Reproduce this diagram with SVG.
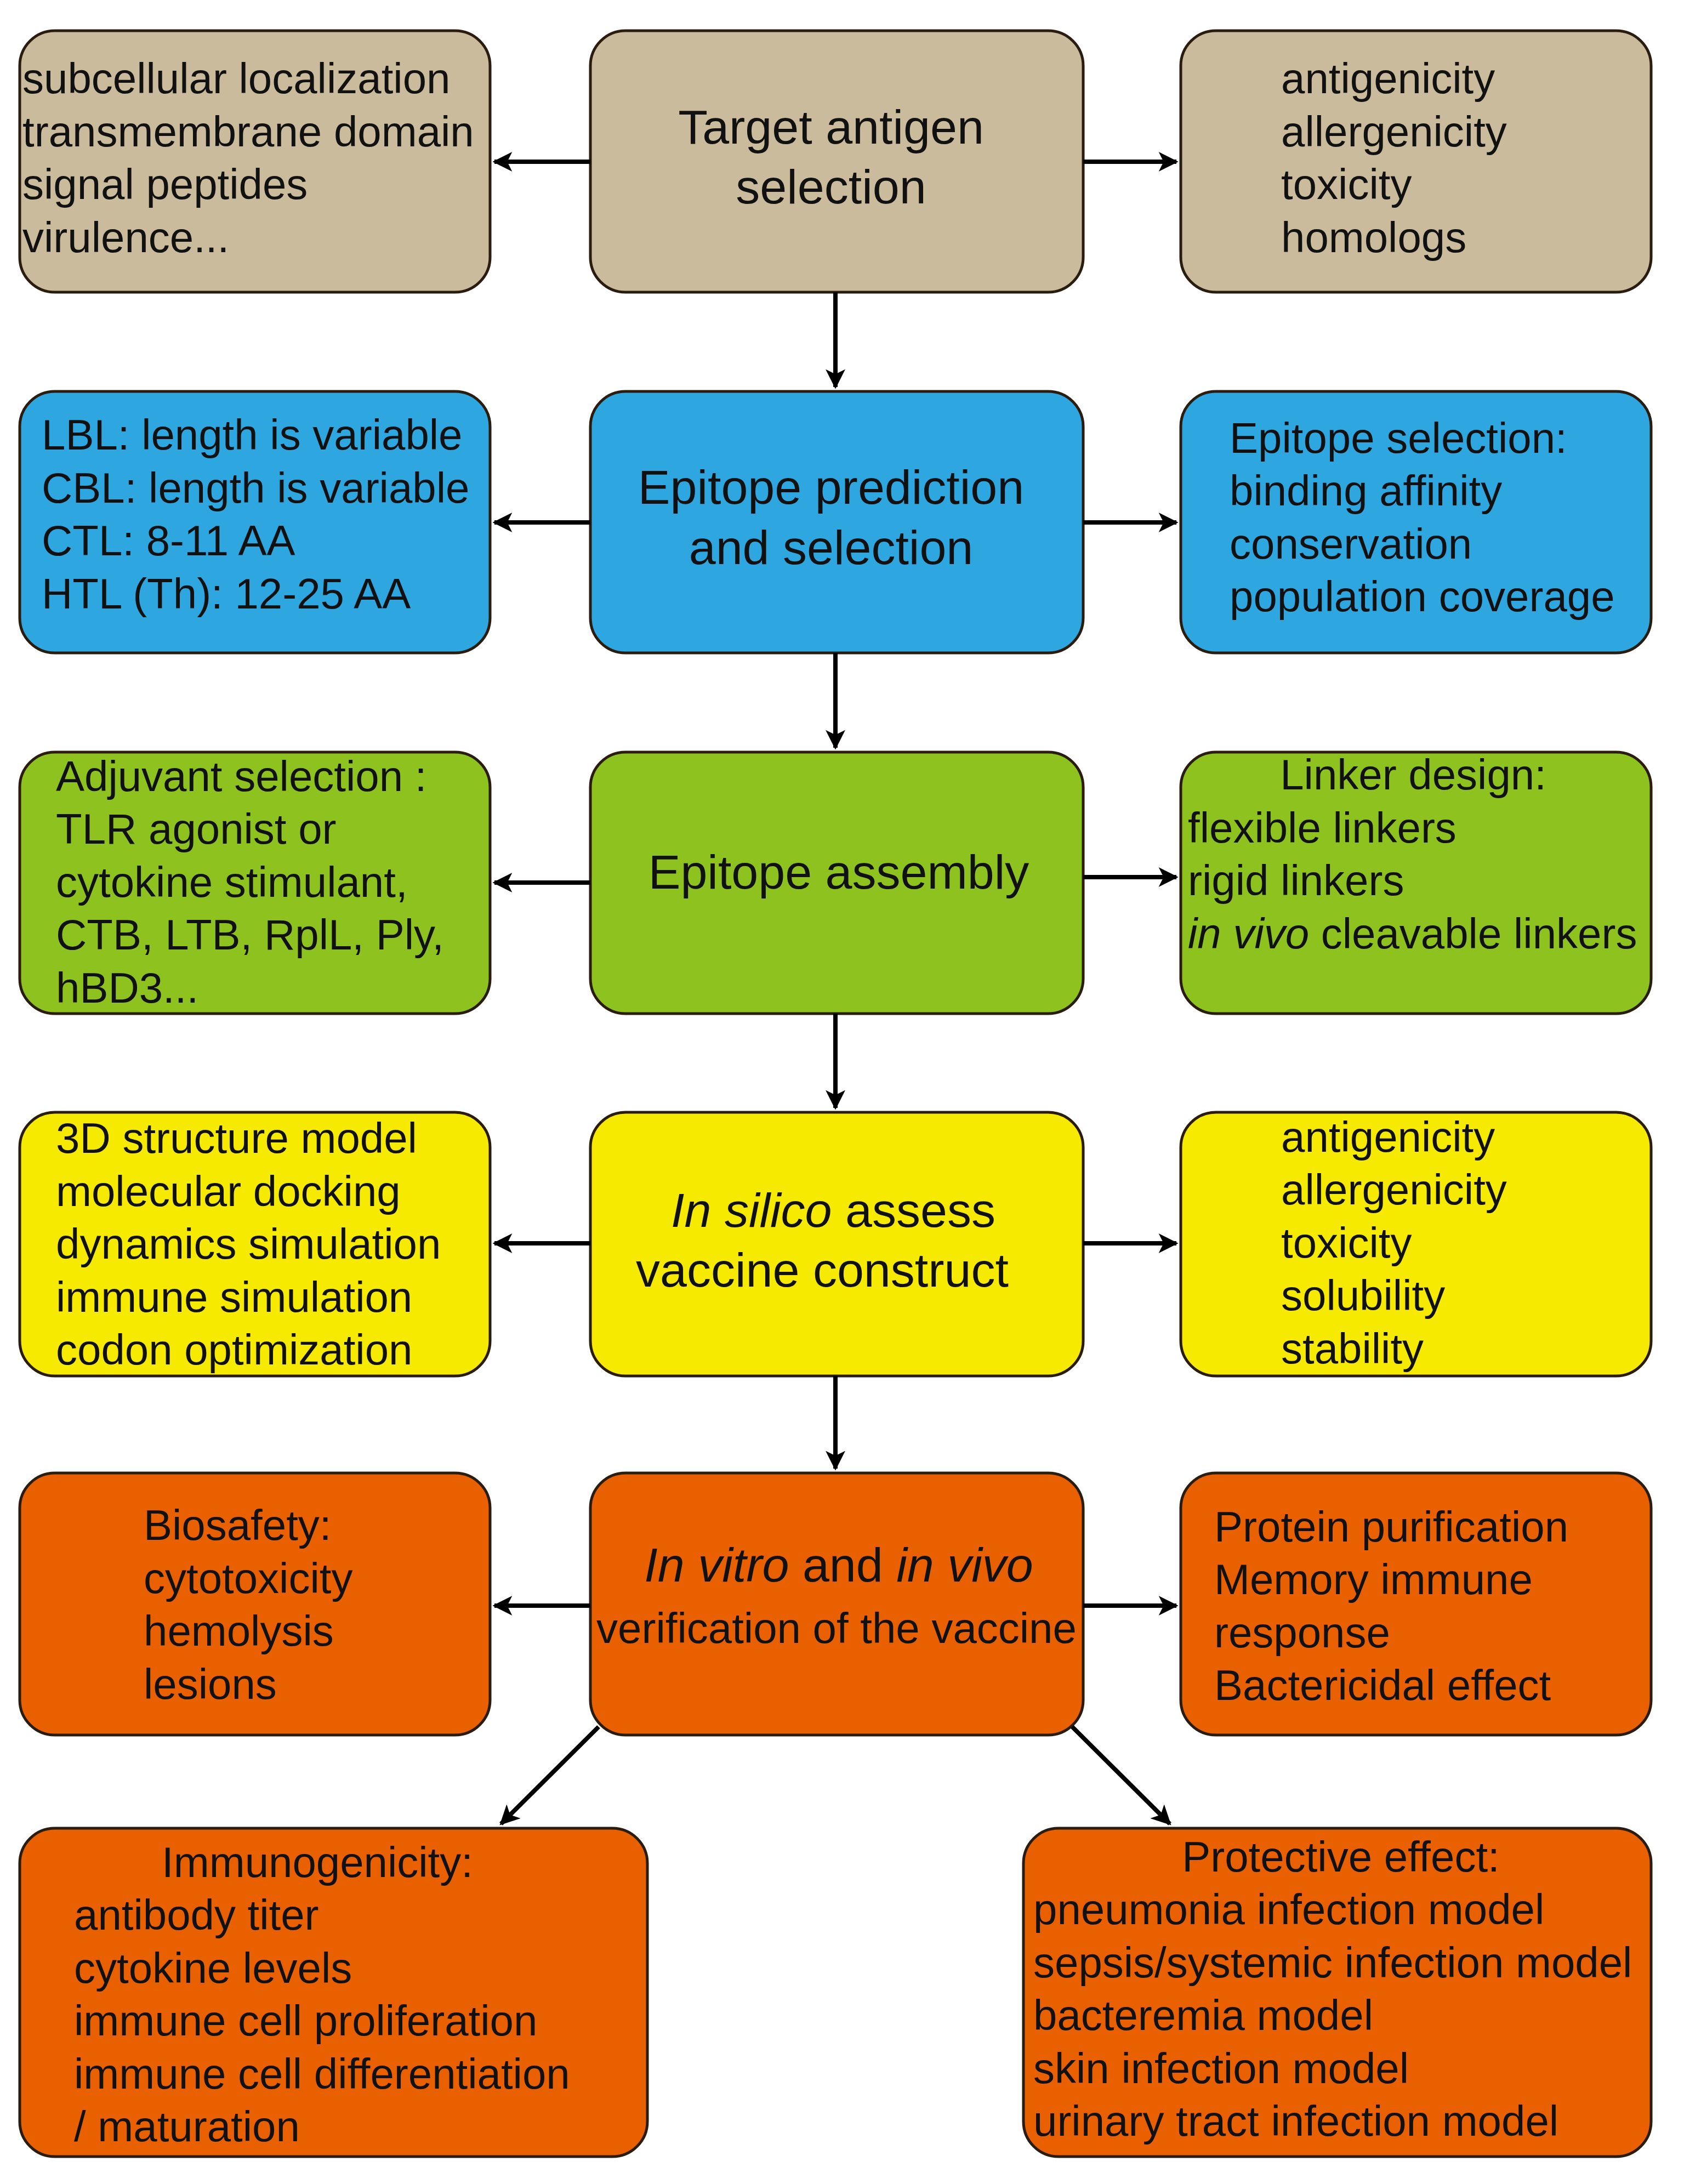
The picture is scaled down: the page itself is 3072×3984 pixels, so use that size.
<svg xmlns="http://www.w3.org/2000/svg" width="3072" height="3984" viewBox="0 0 3072 3984">
<style>
.b{stroke:#2a1d10;stroke-width:5}
.tan{fill:#C9BB9C}.blu{fill:#2EA6E0}.grn{fill:#8DC21F}.yel{fill:#F5EA00}.org{fill:#E86000}
text{font-family:"Liberation Sans",Arial,sans-serif;fill:#111;font-size:78px}
.c{font-size:88px;text-anchor:middle}
.m{text-anchor:middle}
.l{stroke:#000;stroke-width:8;fill:none;marker-end:url(#ah)}
</style>
<defs><marker id="ah" viewBox="0 0 10 10" refX="9" refY="5" markerWidth="4.5" markerHeight="4.5" orient="auto" markerUnits="strokeWidth"><path d="M0,0 L10,5 L0,10 L2.5,5 z" fill="#000"/></marker></defs>
<rect width="3072" height="3984" fill="#fff"/>
<g id="r1l"><rect class="b tan" x="36" y="56" width="858" height="477" rx="64"/>
<text x="41" y="170">subcellular localization</text><text x="41" y="267">transmembrane domain</text><text x="41" y="363">signal peptides</text><text x="41" y="460">virulence...</text></g>
<g id="r1c"><rect class="b tan" x="1077" y="56" width="899" height="477" rx="64"/>
<text class="c" x="1516" y="262">Target antigen</text><text class="c" x="1516" y="371">selection</text></g>
<g id="r1r"><rect class="b tan" x="2154" y="56" width="858" height="477" rx="64"/>
<text x="2337" y="170">antigenicity</text><text x="2337" y="267">allergenicity</text><text x="2337" y="363">toxicity</text><text x="2337" y="460">homologs</text></g>

<g id="r2l"><rect class="b blu" x="36" y="714" width="858" height="477" rx="64"/>
<text x="76" y="820">LBL: length is variable</text><text x="76" y="917">CBL: length is variable</text><text x="76" y="1013">CTL:  8-11 AA</text><text x="76" y="1110">HTL (Th): 12-25 AA</text></g>
<g id="r2c"><rect class="b blu" x="1077" y="714" width="899" height="477" rx="64"/>
<text class="c" x="1516" y="919">Epitope prediction</text><text class="c" x="1516" y="1029">and selection</text></g>
<g id="r2r"><rect class="b blu" x="2154" y="714" width="858" height="477" rx="64"/>
<text x="2243" y="826">Epitope selection:</text><text x="2243" y="922">binding affinity</text><text x="2243" y="1019">conservation</text><text x="2243" y="1115">population coverage</text></g>

<g id="r3l"><rect class="b grn" x="36" y="1372" width="858" height="477" rx="64"/>
<text x="102" y="1443">Adjuvant selection :</text><text x="102" y="1539">TLR agonist or</text><text x="102" y="1636">cytokine stimulant,</text><text x="102" y="1732">CTB, LTB, RplL, Ply,</text><text x="102" y="1829">hBD3...</text></g>
<g id="r3c"><rect class="b grn" x="1077" y="1372" width="899" height="477" rx="64"/>
<text class="c" x="1530" y="1621">Epitope assembly</text></g>
<g id="r3r"><rect class="b grn" x="2154" y="1372" width="858" height="477" rx="64"/>
<text class="m" x="2578" y="1440">Linker design:</text><text x="2167" y="1537">flexible linkers</text><text x="2167" y="1633">rigid linkers</text><text x="2167" y="1730"><tspan font-style="italic">in vivo</tspan> cleavable linkers</text></g>

<g id="r4l"><rect class="b yel" x="36" y="2029" width="858" height="481" rx="64"/>
<text x="102" y="2103">3D structure model</text><text x="102" y="2200">molecular docking</text><text x="102" y="2296">dynamics simulation</text><text x="102" y="2393">immune simulation</text><text x="102" y="2489">codon optimization</text></g>
<g id="r4c"><rect class="b yel" x="1077" y="2029" width="899" height="481" rx="64"/>
<text class="c" x="1520" y="2238"><tspan font-style="italic">In silico</tspan> assess</text><text class="c" x="1500" y="2347">vaccine construct</text></g>
<g id="r4r"><rect class="b yel" x="2154" y="2029" width="858" height="481" rx="64"/>
<text x="2337" y="2101">antigenicity</text><text x="2337" y="2197">allergenicity</text><text x="2337" y="2294">toxicity</text><text x="2337" y="2390">solubility</text><text x="2337" y="2487">stability</text></g>

<g id="r5l"><rect class="b org" x="36" y="2687" width="858" height="478" rx="64"/>
<text x="262" y="2809">Biosafety:</text><text x="262" y="2906">cytotoxicity</text><text x="262" y="3002">hemolysis</text><text x="262" y="3099">lesions</text></g>
<g id="r5c"><rect class="b org" x="1077" y="2687" width="899" height="478" rx="64"/>
<text class="c" x="1530" y="2885"><tspan font-style="italic">In vitro</tspan> and <tspan font-style="italic">in vivo</tspan></text><text class="m" x="1526" y="2997" font-size="78">verification of the vaccine</text></g>
<g id="r5r"><rect class="b org" x="2154" y="2687" width="858" height="478" rx="64"/>
<text x="2215" y="2812">Protein purification</text><text x="2215" y="2908">Memory immune</text><text x="2215" y="3005">response</text><text x="2215" y="3101">Bactericidal effect</text></g>

<g id="r6l"><rect class="b org" x="36" y="3335" width="1145" height="599" rx="64"/>
<text class="m" x="579" y="3424">Immunogenicity:</text><text x="135" y="3520">antibody titer</text><text x="135" y="3617">cytokine levels</text><text x="135" y="3713">immune cell proliferation</text><text x="135" y="3810">immune cell differentiation</text><text x="135" y="3906">/ maturation</text></g>
<g id="r6r"><rect class="b org" x="1867" y="3335" width="1145" height="599" rx="64"/>
<text class="m" x="2446" y="3414">Protective effect:</text><text x="1885" y="3510">pneumonia infection model</text><text x="1885" y="3607">sepsis/systemic infection model</text><text x="1885" y="3703">bacteremia model</text><text x="1885" y="3800">skin infection model</text><text x="1885" y="3896">urinary tract infection model</text></g>

<g id="connectors">
<path class="l" d="M1524,533 V706"/><path class="l" d="M1524,1191 V1364"/><path class="l" d="M1524,1849 V2021"/><path class="l" d="M1524,2510 V2679"/>
<path class="l" d="M1077,295 H902"/><path class="l" d="M1976,295 H2146"/>
<path class="l" d="M1077,953 H902"/><path class="l" d="M1976,953 H2146"/>
<path class="l" d="M1077,1610 H902"/><path class="l" d="M1976,1600 H2146"/>
<path class="l" d="M1077,2268 H902"/><path class="l" d="M1976,2268 H2146"/>
<path class="l" d="M1077,2929 H902"/><path class="l" d="M1976,2929 H2146"/>
<path class="l" d="M1092,3150 L914,3327"/><path class="l" d="M1956,3150 L2134,3327"/>
</g>
</svg>
